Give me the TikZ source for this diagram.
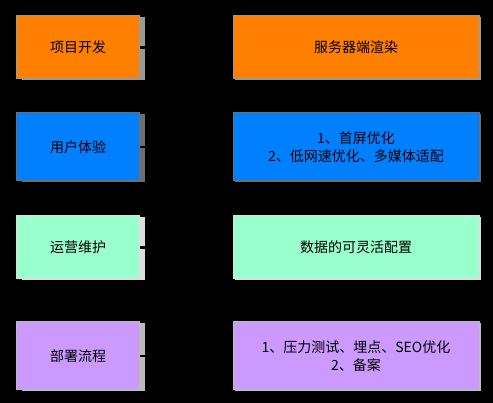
\documentclass[tikz,border=0pt]{standalone}
\usepackage{fontspec}
\setmainfont{Noto Sans CJK SC}
\usetikzlibrary{positioning, arrows.meta, shadows}
\definecolor{devcol}{RGB}{255, 128, 0}
\definecolor{uxcol}{RGB}{0, 127, 255}
\definecolor{opscol}{RGB}{153, 255, 204}
\definecolor{deploycol}{RGB}{204, 153, 255}
\definecolor{devedge}{RGB}{153, 153, 153}
\definecolor{uxedge}{RGB}{110, 110, 110}
\definecolor{opsedge}{RGB}{221, 221, 221}
\definecolor{deployedge}{RGB}{187, 187, 187}
\definecolor{linkcol}{RGB}{0, 0, 0}

\begin{document}
\begin{tikzpicture}[x=1pt, y=-1pt,
    box/.style={rectangle, inner sep=0pt, line width=1pt, align=center,
      font=\fontsize{14}{18}\selectfont, text=black},
    lbox/.style={box, minimum width=123pt, draw=#1,
      drop shadow={shadow xshift=5pt, shadow yshift=-1.5pt, fill=#1, opacity=1}},
    rbox/.style={box, minimum width=246pt, draw=#1,
      drop shadow={shadow xshift=1.5pt, shadow yshift=-1.5pt, fill=#1, opacity=1}},
    link/.style={-{Stealth[length=4pt, width=5pt]}, linkcol, line width=2.5pt}]

    \fill[black] (0,0) rectangle (493,403);
    \useasboundingbox (0,0) rectangle (493,403);

    \node[lbox=devedge, fill=devcol, minimum height=63pt] (dev) at (78, 47.5) {项目开发};
    \node[lbox=uxedge, fill=uxcol, minimum height=68pt] (ux) at (78, 147) {用户体验};
    \node[lbox=opsedge, fill=opscol, minimum height=63pt] (ops) at (78, 247.5) {运营维护};
    \node[lbox=deployedge, fill=deploycol, minimum height=68pt] (deploy) at (78, 356) {部署流程};

    \node[rbox=devedge, fill=devcol, minimum height=63pt] (ssr) at (356, 47.5) {服务器端渲染};
    \node[rbox=uxedge, fill=uxcol, minimum height=68pt] (perf) at (356, 147) {1、首屏优化\\2、低网速优化、多媒体适配};
    \node[rbox=opsedge, fill=opscol, minimum height=63pt] (conf) at (356, 247.5) {数据的可灵活配置};
    \node[rbox=deployedge, fill=deploycol, minimum height=68pt] (test) at (356, 356) {1、压力测试、埋点、SEO优化\\2、备案};

    \draw[link] (dev) -- (ssr);
    \draw[link] (ux) -- (perf);
    \draw[link] (ops) -- (conf);
    \draw[link] (deploy) -- (test);
  \end{tikzpicture}
\end{document}
